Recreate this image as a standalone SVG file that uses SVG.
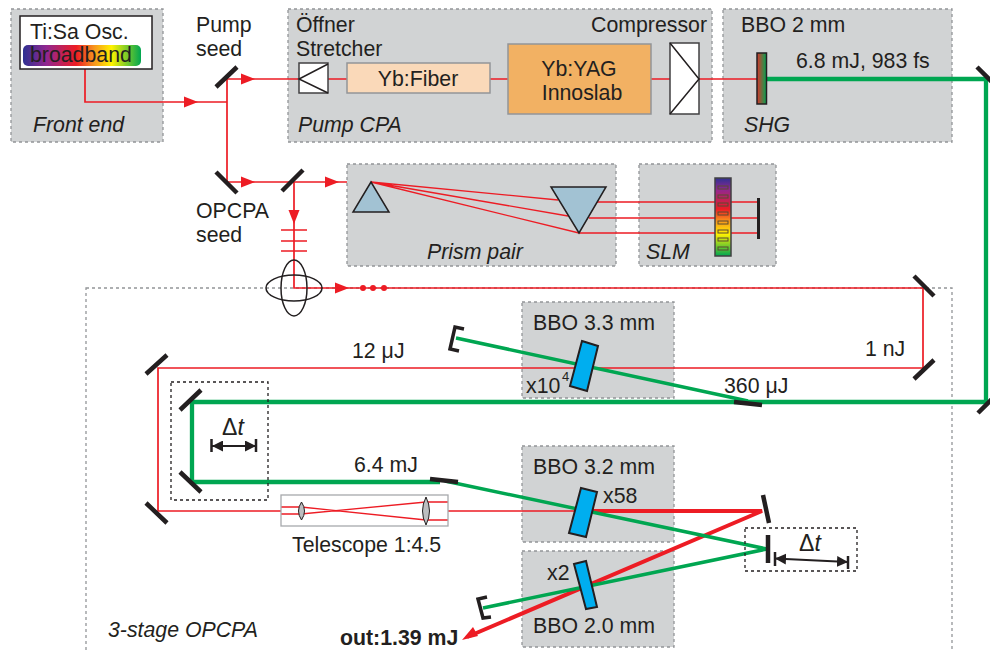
<svg xmlns="http://www.w3.org/2000/svg" width="990" height="652" viewBox="0 0 990 652">
<style>
text{font-family:"Liberation Sans",Arial,sans-serif;font-size:21.3px;fill:#231f20}
.i{font-style:italic}
.m{text-anchor:middle}
.dt{font-size:23px}
.b{fill:#d1d3d4;stroke:#939598;stroke-width:1.3;stroke-dasharray:3 3}
.d{fill:none;stroke:#231f20;stroke-width:1.3;stroke-dasharray:3 3}
.r{fill:none;stroke:#ed1c24;stroke-width:1.3}
.r2{fill:none;stroke:#ed1c24;stroke-width:1.7}
.R{fill:none;stroke:#ed1c24;stroke-width:4}
.g{fill:none;stroke:#00a651;stroke-width:3.5}
.G{fill:none;stroke:#00a651;stroke-width:4.300}
.mi{fill:none;stroke:#231f20;stroke-width:4.500}
.k{fill:none;stroke:#231f20;stroke-width:1.5}
.c{fill:#00aeef;stroke:#231f20;stroke-width:2}
.p{fill:#a2c2d3;stroke:#231f20;stroke-width:1.5}
.w{fill:#fff;stroke:#414042;stroke-width:1.5}
.l{fill:#bcbec0;stroke:#231f20;stroke-width:1}
.s{fill:none;stroke:#5a4a30;stroke-width:1}
</style>
<defs>
<polygon id="ah" points="0,-5.500 14,0 0,5.500" fill="#ed1c24"/>
<linearGradient id="rb" x1="0" x2="1" y1="0" y2="0"><stop offset="0" stop-color="#2e3192"/><stop offset=".2" stop-color="#92278f"/><stop offset=".45" stop-color="#ed1c24"/><stop offset=".6" stop-color="#f7941d"/><stop offset=".75" stop-color="#fff200"/><stop offset="1" stop-color="#00a651"/></linearGradient>
<linearGradient id="rv" x1="0" x2="0" y1="0" y2="1"><stop offset="0" stop-color="#2e3192"/><stop offset=".15" stop-color="#92278f"/><stop offset=".4" stop-color="#ed1c24"/><stop offset=".55" stop-color="#f7941d"/><stop offset=".72" stop-color="#fff200"/><stop offset="1" stop-color="#00a651"/></linearGradient>
<linearGradient id="sh" x1="0" x2="1" y1="0" y2="0"><stop offset="0" stop-color="#d9342b"/><stop offset="1" stop-color="#00a651"/></linearGradient>
<marker id="ba" viewBox="0 0 10 10" refX="10" refY="5" markerWidth="11" markerHeight="11" markerUnits="userSpaceOnUse" orient="auto-start-reverse"><polygon points="0,0 10,5 0,10" fill="#231f20"/></marker>
</defs>

<g id="front-end-box"><rect class="b" x="11" y="9" width="152" height="133"/><text class="i" x="33" y="132">Front end</text></g>
<g id="pump-cpa-box"><rect class="b" x="288" y="9" width="424" height="133"/><text class="i" x="298" y="132">Pump CPA</text></g>
<g id="shg-box"><rect class="b" x="723" y="9" width="229" height="133"/><text x="741" y="32">BBO 2 mm</text><text class="i" x="744" y="132">SHG</text></g>
<g id="prism-box"><rect class="b" x="347" y="164" width="269" height="102"/><text class="i" x="427" y="259">Prism pair</text></g>
<g id="slm-box"><rect class="b" x="639" y="164" width="137" height="102"/><text class="i" x="646" y="259">SLM</text></g>
<g id="opcpa-box"><rect class="d" style="stroke:#939598" x="86" y="288" width="866" height="380"/><text class="i" x="108" y="637">3-stage OPCPA</text></g>
<g id="bbo33-box"><rect class="b" x="522" y="302" width="152" height="96"/><text x="533" y="330">BBO 3.3 mm</text></g>
<g id="bbo32-box"><rect class="b" x="522" y="446" width="152" height="96"/><text x="533" y="474">BBO 3.2 mm</text></g>
<g id="bbo20-box"><rect class="b" x="522" y="551" width="152" height="96"/><text x="533" y="633">BBO 2.0 mm</text></g>

<g id="connectors">
<path class="r2" d="M85 69V102H227M227 79V182M227 79H298M227 182H347M294 182V288H923V368H158V511H281"/>
<path class="r" d="M328 79H347M490 79H508M651 79H670M699 79H757M371 182L558 200M371 182L568 216M371 182L579 233M597 202H758M589 218H758M579 233H758"/>
<path class="r" d="M281 507H301L426 520H448M281 514H301L426 502H448M448 511H582"/>
<path class="r2" d="M281 230H307M281 241H307M281 251H307"/>
<path class="R" d="M582 511H762L467 637"/>
<polygon points="462,640 473,627 478,636" fill="#ed1c24"/>
<path class="G" d="M767 79H986V402H192V482H440"/>
<path class="g" d="M445 481L767 549L483 608M456 338L748 401"/>
<use href="#ah" x="184" y="102"/><use href="#ah" x="241" y="79"/><use href="#ah" x="241" y="182"/><use href="#ah" x="325" y="182"/><use href="#ah" x="335" y="288"/>
<use href="#ah" transform="translate(294 210) rotate(90)"/>
<g fill="#ed1c24"><circle cx="363" cy="288" r="3"/><circle cx="373" cy="288" r="3"/><circle cx="384" cy="288" r="3"/></g>
</g>

<g id="oscillator"><rect x="20" y="16" width="132" height="53" fill="#fff" stroke="#231f20" stroke-width="1.5"/><rect x="23" y="45" width="118" height="21" rx="5" fill="url(#rb)"/><text x="30" y="39">Ti:Sa Osc.</text><text x="30" y="62">broadband</text></g>
<g id="stretcher"><rect class="w" x="299" y="63" width="29" height="30"/><path class="k" d="M328 64L299 79L328 93"/><text x="296" y="32">Öffner</text><text x="296" y="56">Stretcher</text></g>
<g id="yb-fiber"><rect x="347" y="63" width="143" height="30" fill="#fad9b9" stroke="#939598" stroke-width="1.5"/><text class="m" x="418" y="86">Yb:Fiber</text></g>
<g id="yb-yag"><rect x="508" y="44" width="143" height="70" fill="#f2b163" stroke="#939598" stroke-width="1.5"/><text class="m" x="579" y="76">Yb:YAG</text><text class="m" x="582" y="100">Innoslab</text></g>
<g id="compressor"><rect class="w" x="670" y="43" width="29" height="71"/><path class="k" d="M670 43L699 79L670 114"/><text x="707" y="32" text-anchor="end">Compressor</text></g>
<g id="shg-crystal"><rect x="757" y="53" width="9.500" height="51" fill="url(#sh)" stroke="#231f20" stroke-width="1.500"/><text x="796" y="68">6.8 mJ, 983 fs</text></g>
<g id="prism1"><polygon class="p" points="371,182 353,212 389,212"/></g>
<g id="prism2"><polygon class="p" points="551,187 606,187 579,233"/></g>
<g id="slm"><rect x="715" y="178" width="16" height="78" fill="url(#rv)" stroke="#414042" stroke-width="1.500"/>
<g class="s"><rect x="718" y="186" width="10" height="3"/><rect x="718" y="195" width="10" height="3"/><rect x="718" y="203" width="10" height="3"/><rect x="718" y="212" width="10" height="3"/><rect x="718" y="221" width="10" height="3"/><rect x="718" y="230" width="10" height="3"/><rect x="718" y="238" width="10" height="3"/><rect x="718" y="247" width="10" height="3"/></g></g>
<g id="slm-mirror"><path class="mi" style="stroke-width:3" d="M758.500 198V239"/></g>
<g id="mirrors"><path class="mi" d="M216 87L237 67M216 172L237 193M282 191L303 170M914 276L934 296M914 379L934 360M146 374L167 355M146 503L167 523M180 410L201 390M180 472L201 492M977 67L992 82M978 413L992 399M430 479L458 482M734 402L762 405M763 495L769 523M768 535V563"/></g>
<g id="dumps"><path class="mi" style="stroke-width:3.500" d="M464 329L455 327L450 349L459 351M487 597L478 599L483 618L491 617"/></g>
<g id="seed-optics"><ellipse class="k" cx="294" cy="288" rx="13" ry="28"/><ellipse class="k" cx="294" cy="288" rx="28" ry="13"/></g>
<g id="crystals"><polygon class="c" points="582,341 598,346 587,391 570,386"/><polygon class="c" points="581,488 597,492 586,537 569,533"/><polygon class="c" points="574,564 586,561 597,607 586,609"/></g>
<g id="telescope"><rect x="281" y="495" width="167" height="31" fill="none" stroke="#a7a9ac" stroke-width="1.300"/><path class="l" d="M301.500 502Q307.500 511 301.500 520Q295.500 511 301.500 502Z"/><path class="l" d="M426 497Q433 511 426 525Q419 511 426 497Z"/><text x="292" y="552">Telescope 1:4.5</text></g>
<g id="delay1"><rect class="d" x="171" y="382" width="97" height="118"/><text class="dt" x="222" y="435"><tspan>Δ</tspan><tspan class="i">t</tspan></text><path class="k" style="stroke-width:2" marker-start="url(#ba)" marker-end="url(#ba)" d="M212 446H256"/><path class="k" style="stroke-width:2.500" d="M211.500 439V452M256 439V452"/></g>
<g id="delay2"><rect class="d" x="745" y="528" width="112" height="43"/><text class="dt" x="799" y="551"><tspan>Δ</tspan><tspan class="i">t</tspan></text><path class="k" style="stroke-width:2" marker-start="url(#ba)" marker-end="url(#ba)" d="M775 558.500L848 562"/><path class="k" style="stroke-width:2.500" d="M775 552V566M848 556V569"/></g>
<g id="labels">
<text x="196" y="32">Pump</text><text x="196" y="56">seed</text>
<text x="196" y="218">OPCPA</text><text x="196" y="242">seed</text>
<text x="352" y="358">12 μJ</text><text x="865" y="356">1 nJ</text><text x="724" y="393">360 μJ</text><text x="354" y="472">6.4 mJ</text>
<text x="526" y="393">x10</text><text x="562" y="381" style="font-size:13px">4</text>
<text x="603" y="503">x58</text><text x="547" y="580">x2</text>
<text x="340" y="645" style="font-weight:bold">out:1.39 mJ</text>
</g>
</svg>
